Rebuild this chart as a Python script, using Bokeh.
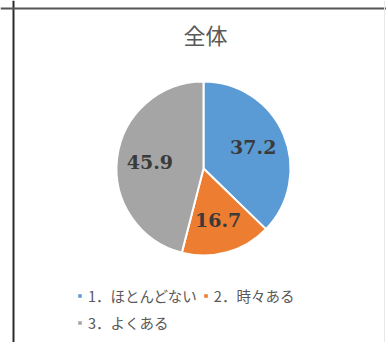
import math
from bokeh.plotting import figure
from bokeh.models import Range1d, Span, Legend, LegendItem, ColumnDataSource, Label
from bokeh.core.properties import value
from bokeh.embed import file_html
from bokeh.resources import INLINE

title_text = "全体"
categories = ["1．ほとんどない", "2．時々ある", "3．よくある"]
values = [37.2, 16.7, 45.9]
colors = ["#5B9BD5", "#ED7D31", "#A5A5A5"]

W, H = 386, 342
p = figure(width=W, height=H, output_backend="svg", toolbar_location=None,
           x_range=Range1d(0, W), y_range=Range1d(0, H),
           min_border=0, min_border_left=0, min_border_right=0,
           min_border_top=0, min_border_bottom=0)
p.axis.visible = False
p.grid.visible = False
p.outline_line_color = None
p.background_fill_color = "white"
p.border_fill_color = "white"

# frame
p.add_layout(Span(location=13, dimension="height", line_color="#2a2a2a", line_width=2))
p.add_layout(Span(location=H - 8, dimension="width", line_color="#555555", line_width=2))
p.add_layout(Span(location=384, dimension="height", line_color="#e8e8e8", line_width=1))

cx, cy, R = 203, H - 168, 87
total = sum(values)
starts, ends, mids = [], [], []
cum = 0.0
for v in values:
    a0 = math.pi / 2 - 2 * math.pi * (cum + v) / total
    a1 = math.pi / 2 - 2 * math.pi * cum / total
    starts.append(a0)
    ends.append(a1)
    mids.append((a0 + a1) / 2)
    cum += v

src = ColumnDataSource(dict(start=starts, end=ends, color=colors, cat=categories, val=values))
wr = p.wedge(x=cx, y=cy, radius=R, radius_units="screen", start_angle="start", end_angle="end",
             fill_color="color", line_color="white", line_width=2, source=src)

lr = 54
lab = ColumnDataSource(dict(
    x=[cx + lr * math.cos(m) for m in mids],
    y=[cy + lr * math.sin(m) for m in mids],
    t=[f"{v:.1f}" for v in values]))
p.text(x="x", y="y", text="t", source=lab, text_align="center", text_baseline="middle",
       text_font=value("DejaVu Serif"), text_font_size="19px", text_font_style="bold",
       text_color="#3a3a3a")

p.add_layout(Label(x=205, y=H - 33, text=title_text, text_align="center", text_baseline="middle",
                   text_font="Noto Sans CJK JP", text_font_size="22px", text_color="#595959"))

def mk_legend(idxs, loc):
    items = [LegendItem(label=categories[i], renderers=[wr], index=i) for i in idxs]
    lg = Legend(items=items, location=loc, orientation="horizontal",
                glyph_width=7, glyph_height=7, label_standoff=5, spacing=5,
                padding=0, margin=0, border_line_alpha=0, background_fill_alpha=0,
                label_text_font="Noto Sans CJK JP", label_text_font_size="14.5px",
                label_text_color="#595959", label_height=16)
    p.add_layout(lg, "center")

mk_legend([0, 1], (76, 36))
mk_legend([2], (76, 9))

open("out.html", "w").write(file_html(p, INLINE))
